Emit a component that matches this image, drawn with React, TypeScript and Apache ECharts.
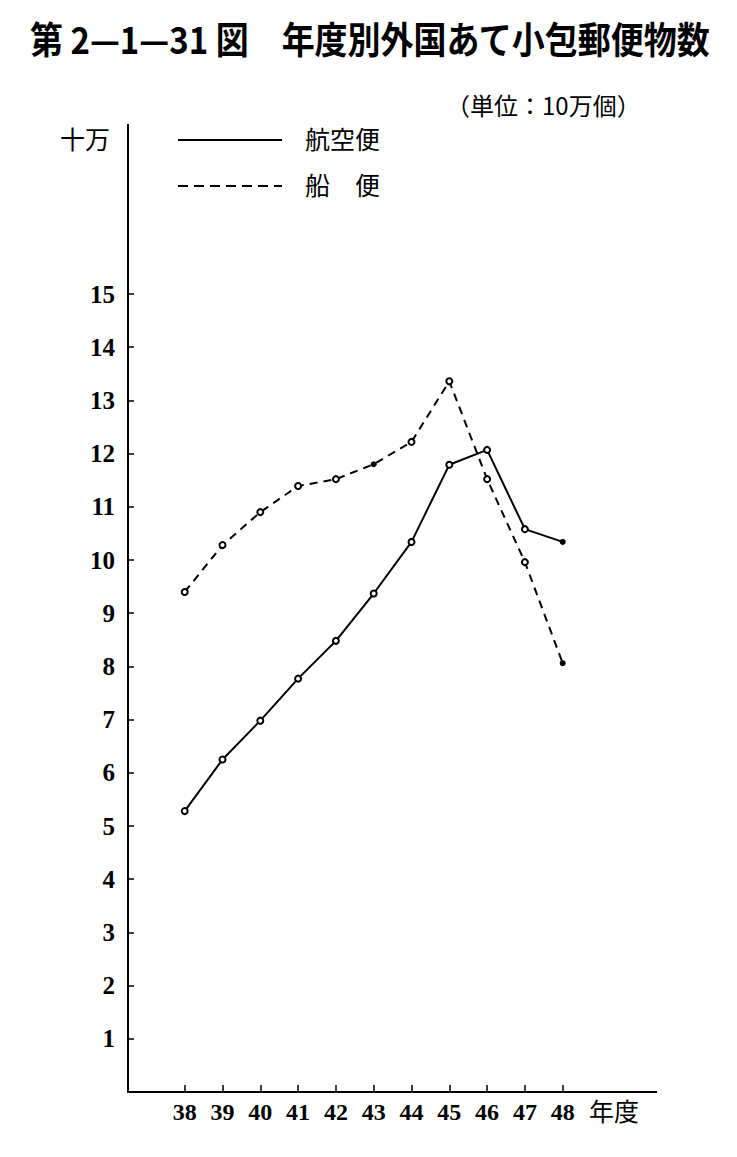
import React, { useEffect, useRef } from "react";
import * as echarts from "echarts";

const years = ["38", "39", "40", "41", "42", "43", "44", "45", "46", "47", "48"];
const airValues = [5.28, 6.25, 6.98, 7.77, 8.48, 9.37, 10.34, 11.79, 12.07, 10.58, 10.34];
const seaValues = [9.4, 10.28, 10.9, 11.39, 11.52, 11.8, 12.22, 13.36, 11.52, 9.96, 8.06];
const airFilled = [10];
const seaFilled = [5, 10];
const yMax = 15;
const yInterval = 1;

const titleText = "第 2—1—31 図　年度別外国あて小包郵便物数";
const unitText = "（単位：10万個）";
const yUnitText = "十万";
const airName = "航空便";
const seaName = "船　便";
const xUnitText = "年度";

const mark = (vals: number[], filled: number[]) =>
  vals.map((v, i) =>
    filled.includes(i)
      ? { value: v, symbol: "circle", itemStyle: { color: "#000" } }
      : v
  );

const serif = "'Liberation Serif', 'DejaVu Serif', serif";
const cjk = "'Noto Sans CJK JP', sans-serif";

// layout
const AX_X = 128; // y-axis line position
const AX_Y = 1092; // x-axis line position
const AX_END = 657;
const BAND = 37.8;
const UNIT = 53.2;

export default function App() {
  const ref = useRef<HTMLDivElement>(null);
  useEffect(() => {
    if (!ref.current) return;
    const chart = echarts.init(ref.current, null, { renderer: "svg" });
    const gridHeight = UNIT * yMax;
    const gridTop = AX_Y - gridHeight;
    chart.setOption({
      animation: false,
      backgroundColor: "#fff",
      grid: [
        {
          left: AX_X,
          top: gridTop,
          width: AX_END - AX_X,
          height: gridHeight,
          containLabel: false,
        },
        {
          left: AX_X + BAND,
          top: gridTop,
          width: BAND * years.length,
          height: gridHeight,
          containLabel: false,
        },
      ],
      xAxis: [
        {
          gridIndex: 0,
          type: "value",
          min: 0,
          max: 1,
          show: false,
        },
        {
          gridIndex: 1,
          type: "category",
          data: years,
          boundaryGap: true,
          axisLine: { show: false },
          axisTick: {
            show: true,
            inside: true,
            length: 7,
            alignWithLabel: true,
            lineStyle: { color: "#000", width: 1.5 },
          },
          axisLabel: {
            interval: 0,
            color: "#000",
            fontFamily: serif,
            fontWeight: "bold",
            fontSize: 24,
            margin: 8,
          },
          splitLine: { show: false },
        },
      ],
      yAxis: [
        {
          gridIndex: 0,
          type: "value",
          min: 0,
          max: yMax,
          interval: yInterval,
          axisLine: { show: true, lineStyle: { color: "#000", width: 2 } },
          axisTick: {
            show: true,
            inside: true,
            length: 6,
            lineStyle: { color: "#000", width: 1.5 },
          },
          axisLabel: {
            color: "#000",
            fontFamily: serif,
            fontWeight: "bold",
            fontSize: 25,
            margin: 13,
            formatter: (v: number) => (v === 0 ? "" : String(v)),
          },
          splitLine: { show: false },
        },
        {
          gridIndex: 1,
          type: "value",
          min: 0,
          max: yMax,
          interval: yInterval,
          show: false,
        },
      ],
      series: [
        {
          name: airName,
          type: "line",
          xAxisIndex: 1,
          yAxisIndex: 1,
          data: mark(airValues, airFilled),
          symbol: "emptyCircle",
          symbolSize: 6,
          lineStyle: { color: "#000", width: 2 },
          itemStyle: { color: "#000", borderWidth: 1.5 },
        },
        {
          name: seaName,
          type: "line",
          xAxisIndex: 1,
          yAxisIndex: 1,
          data: mark(seaValues, seaFilled),
          symbol: "emptyCircle",
          symbolSize: 6,
          lineStyle: { color: "#000", width: 2, type: [8, 6] },
          itemStyle: { color: "#000", borderWidth: 1.5 },
        },
      ],
      graphic: [
        {
          type: "polyline",
          shape: {
            points: [
              [AX_X, 124],
              [AX_X, AX_Y],
              [AX_END, AX_Y],
            ],
          },
          style: { stroke: "#000", lineWidth: 2, fill: null },
        },
        {
          type: "text",
          left: 30,
          top: 19,
          scaleY: 1.12,
          style: {
            text: titleText,
            font: `bold 33px ${cjk}`,
            fill: "#000",
          },
        },
        {
          type: "text",
          left: 446,
          top: 92,
          style: { text: unitText, font: `24px ${cjk}`, fill: "#000" },
        },
        {
          type: "text",
          left: 60,
          top: 125,
          style: { text: yUnitText, font: `25px ${cjk}`, fill: "#000" },
        },
        {
          type: "line",
          shape: { x1: 178, y1: 140, x2: 282, y2: 140 },
          style: { stroke: "#000", lineWidth: 2 },
        },
        {
          type: "text",
          left: 305,
          top: 125,
          style: { text: airName, font: `25px ${cjk}`, fill: "#000" },
        },
        {
          type: "line",
          shape: { x1: 178, y1: 186, x2: 282, y2: 186 },
          style: { stroke: "#000", lineWidth: 2, lineDash: [10, 6] },
        },
        {
          type: "text",
          left: 305,
          top: 171,
          style: { text: seaName, font: `25px ${cjk}`, fill: "#000" },
        },
        {
          type: "text",
          left: 589,
          top: 1097,
          style: { text: xUnitText, font: `25px ${cjk}`, fill: "#000" },
        },
      ],
    });
    return () => chart.dispose();
  }, []);
  return (
    <div
      ref={ref}
      style={{ position: "fixed", left: 0, top: 0, width: 737, height: 1157, background: "#fff" }}
    />
  );
}
